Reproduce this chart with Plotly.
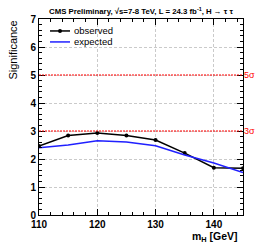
import plotly.graph_objects as go

mass = [110, 115, 120, 125, 130, 135, 140, 145]
observed = [2.46, 2.84, 2.93, 2.84, 2.68, 2.21, 1.69, 1.67]
expected = [2.40, 2.50, 2.65, 2.61, 2.47, 2.14, 1.86, 1.52]
sigma_levels = [3, 5]
sigma_labels = ["3σ", "5σ"]
series_names = ["observed", "expected"]
series_colors = ["black", "#2020ff"]

FONT = "Liberation Sans"

fig = go.Figure()
fig.add_trace(go.Scatter(x=mass, y=observed, mode="lines+markers", name=series_names[0],
                         line=dict(color=series_colors[0], width=1.5),
                         marker=dict(color=series_colors[0], size=4), showlegend=False))
fig.add_trace(go.Scatter(x=mass, y=expected, mode="lines", name=series_names[1],
                         line=dict(color=series_colors[1], width=1.5), showlegend=False))

for lvl, lab in zip(sigma_levels, sigma_labels):
    fig.add_shape(type="line", xref="paper", x0=0, x1=1, yref="y", y0=lvl, y1=lvl,
                  line=dict(color="#ff0000", width=1.2, dash="2px,1px"))
    fig.add_annotation(xref="paper", x=1.0, y=lvl, yref="y", text=lab, showarrow=False,
                       xanchor="left", yanchor="middle", xshift=0, borderpad=0,
                       font=dict(color="#ff0000", size=9, family=FONT))

# legend box (white, hides grid behind it)
fig.add_shape(type="rect", xref="paper", yref="paper", x0=0.0, x1=0.568, y0=0.848, y1=1.0,
              fillcolor="white", line=dict(width=0), layer="below")

# manual legend
leg_y = [0.939, 0.883]
for i, (nm, col) in enumerate(zip(series_names, series_colors)):
    fig.add_shape(type="line", xref="paper", yref="paper", x0=0.054, x1=0.152,
                  y0=leg_y[i], y1=leg_y[i], line=dict(color=col, width=1.5))
    fig.add_annotation(xref="paper", yref="paper", x=0.162, y=leg_y[i], xanchor="left",
                       yanchor="middle", text=nm, showarrow=False,
                       font=dict(size=9.5, family=FONT, color="black"))
fig.add_shape(type="circle", xref="paper", yref="paper", xsizemode="pixel", ysizemode="pixel",
              xanchor=0.103, yanchor=leg_y[0], x0=-2, x1=2, y0=-2, y1=2,
              fillcolor="black", line=dict(color="black", width=0))

fig.add_annotation(xref="paper", yref="paper", x=0.5, y=1.0, yshift=1, yanchor="bottom",
                   text="<b>CMS Preliminary, √s=7-8 TeV, L = 24.3 fb<sup>-1</sup>, H → τ τ</b>",
                   showarrow=False, font=dict(size=7.8, family=FONT, color="black"))

fig.add_annotation(xref="paper", yref="paper", x=0.985, y=0, yshift=-13, xanchor="right",
                   yanchor="top", text="<b>m<sub>H</sub> [GeV]</b>", showarrow=False,
                   font=dict(size=10.5, family=FONT, color="black"))

fig.add_annotation(xref="paper", yref="paper", x=-0.132, y=1.0, xanchor="center",
                   yanchor="top", text="Significance", textangle=-90, showarrow=False,
                   font=dict(size=11, family=FONT, color="black"))

axis_common = dict(showline=True, linecolor="black", linewidth=1, mirror="ticks",
                   ticks="inside", tickcolor="black", showgrid=True, gridcolor="#bdbdbd",
                   griddash="3px,2px", gridwidth=0.8, zeroline=False,
                   tickfont=dict(size=10, family=FONT, color="black", weight="bold"))

fig.update_xaxes(range=[110, 145], dtick=10, tick0=110, ticklen=6,
                 minor=dict(dtick=2, ticklen=3, ticks="inside", tickcolor="black", showgrid=False),
                 **axis_common)
fig.update_yaxes(range=[0, 7], dtick=1, ticklen=6,
                 minor=dict(dtick=0.2, ticklen=3, ticks="inside", tickcolor="black", showgrid=False),
                 **axis_common)

fig.update_layout(width=256, height=246, margin=dict(l=39, r=13, t=19, b=31),
                  paper_bgcolor="white", plot_bgcolor="white",
                  font=dict(family=FONT), showlegend=False, hovermode=False)

fig.write_html("out.html", config={"displayModeBar": False, "staticPlot": True},
               post_script="document.body.style.margin='0';document.body.style.overflow='hidden';")
